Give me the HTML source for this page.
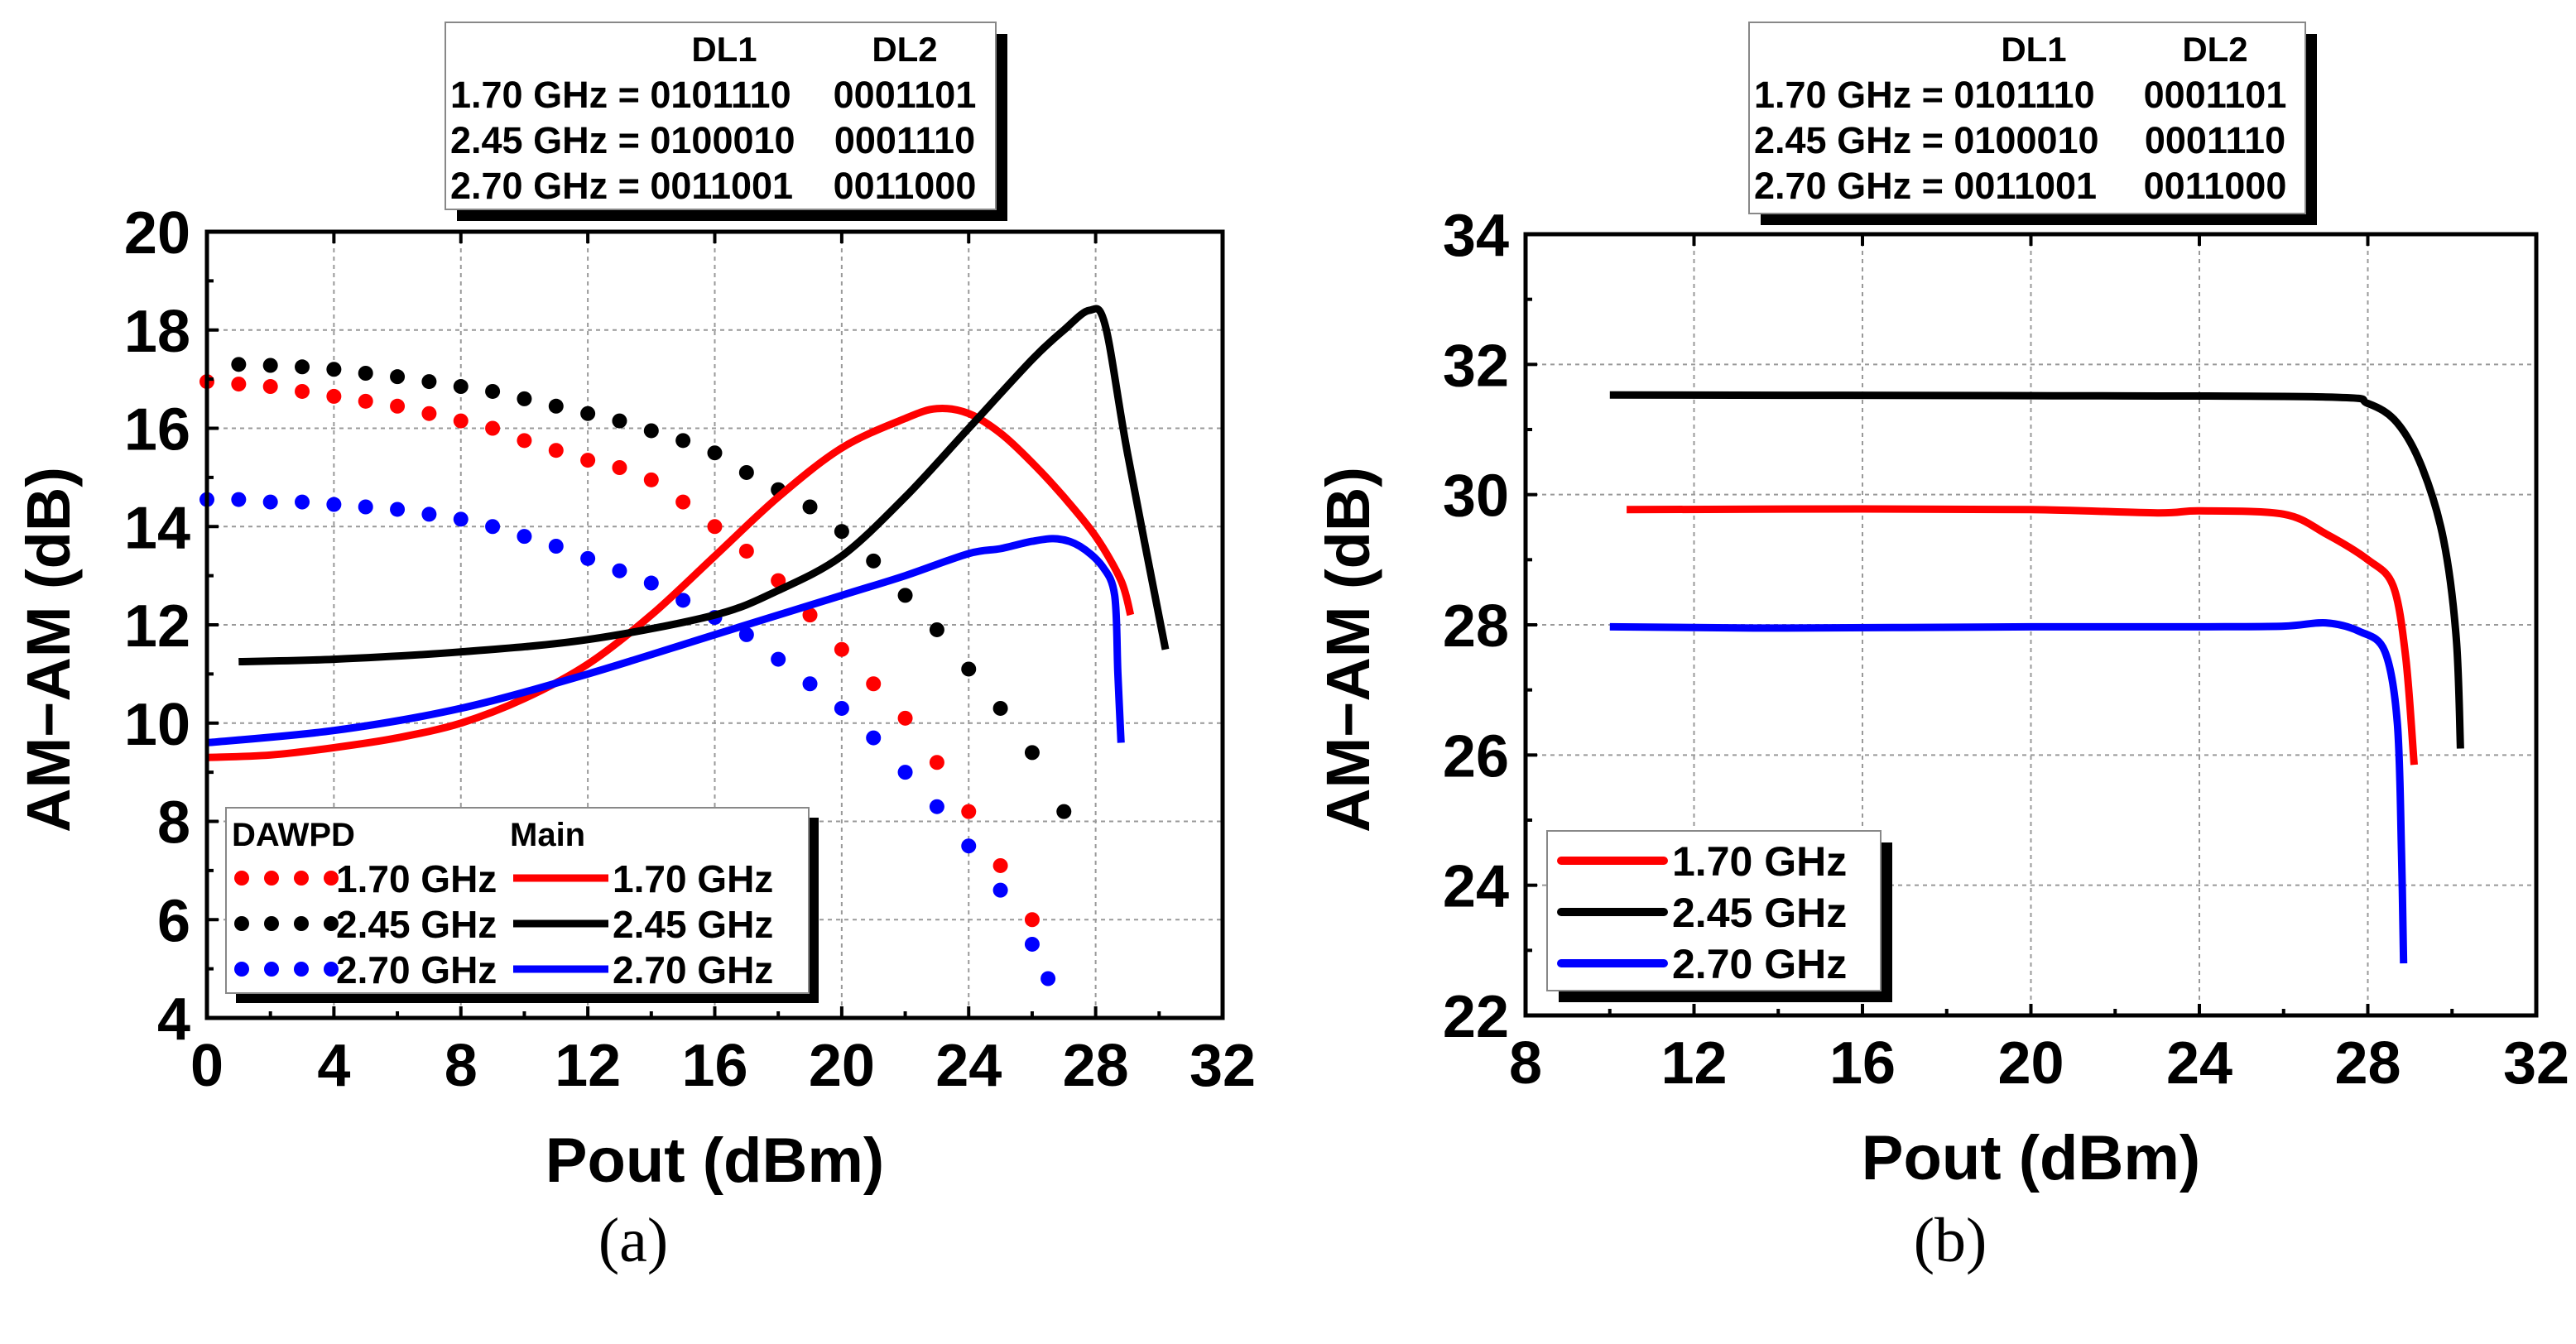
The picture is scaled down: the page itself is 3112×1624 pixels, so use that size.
<!DOCTYPE html>
<html><head><meta charset="utf-8"><style>
body{margin:0;background:#fff}
svg text{font-family:"Liberation Sans",Arial,sans-serif;font-weight:bold}
</style></head><body>
<svg id="fig" width="3112" height="1619" viewBox="0 0 3112 1619" xmlns="http://www.w3.org/2000/svg">
<g id="pa"></g>
<g id="pb"></g>
</svg>
<script>
// Panel (a) data
const aXTicks=[0,4,8,12,16,20,24,28,32];
const aYTicks=[4,6,8,10,12,14,16,18,20];
const dRedX=[0,1,2,3,4,5,6,7,8,9,10,11,12,13,14,15,16,17,18,19,20,21,22,23,24,25,26];
const dRedY=[16.95,16.9,16.85,16.75,16.65,16.55,16.45,16.3,16.15,16.0,15.75,15.55,15.35,15.2,14.95,14.5,14.0,13.5,12.9,12.2,11.5,10.8,10.1,9.2,8.2,7.1,6.0];
const dBlkX=[1,2,3,4,5,6,7,8,9,10,11,12,13,14,15,16,17,18,19,20,21,22,23,24,25,26,27];
const dBlkY=[17.3,17.28,17.25,17.2,17.12,17.05,16.95,16.85,16.75,16.6,16.45,16.3,16.15,15.95,15.75,15.5,15.1,14.75,14.4,13.9,13.3,12.6,11.9,11.1,10.3,9.4,8.2];
const dBluX=[0,1,2,3,4,5,6,7,8,9,10,11,12,13,14,15,16,17,18,19,20,21,22,23,24,25,26,26.5];
const dBluY=[14.55,14.55,14.5,14.5,14.45,14.4,14.35,14.25,14.15,14.0,13.8,13.6,13.35,13.1,12.85,12.5,12.15,11.8,11.3,10.8,10.3,9.7,9.0,8.3,7.5,6.6,5.5,4.8];
const mRedX=[0,2,4,6,8,10,12,14,16,18,20,22,23,24,25,26,27,28,28.8,29.1];
const mRedY=[9.3,9.35,9.5,9.7,10.0,10.5,11.2,12.2,13.4,14.6,15.6,16.2,16.4,16.3,15.9,15.3,14.6,13.8,12.9,12.2];
const mBlkX=[1,4,8,12,16,18,20,22,24,26,27,27.8,28.3,29,30.2];
const mBlkY=[11.25,11.3,11.45,11.7,12.2,12.7,13.4,14.6,16.0,17.4,18.0,18.4,18.1,15.5,11.5];
const mBluX=[0,4,8,12,16,20,22,24,25,26,26.8,27.5,28.2,28.6,28.7,28.8];
const mBluY=[9.6,9.85,10.3,11.0,11.8,12.6,13.0,13.45,13.55,13.7,13.75,13.6,13.2,12.6,11.0,9.6];
// Panel (b) data
const bXTicks=[8,12,16,20,24,28,32];
const bYTicks=[22,24,26,28,30,32,34];
const bRedX=[10.4,16,20,23,24,26,27,28,28.6,28.9,29.1];
const bRedY=[29.77,29.78,29.77,29.72,29.75,29.7,29.4,29.0,28.6,27.5,25.85];
const bBlkX=[10,20,27,28,28.7,29.3,29.8,30.1,30.2];
const bBlkY=[31.53,31.52,31.5,31.4,31.1,30.4,29.3,27.8,26.1];
const bBluX=[10,14,20,24,26,27,27.8,28.4,28.7,28.8,28.85];
const bBluY=[27.97,27.95,27.97,27.97,27.98,28.03,27.9,27.6,26.5,24.5,22.8];
const tableRows=[["1.70 GHz = 0101110","0001101"],["2.45 GHz = 0100010","0001110"],["2.70 GHz = 0011001","0011000"]];

const NS="http://www.w3.org/2000/svg";
function mk(p,t,a,txt){const e=document.createElementNS(NS,t);for(const k in a)e.setAttribute(k,a[k]);if(txt!==undefined)e.textContent=txt;p.appendChild(e);return e;}
const RED="#ff0000",BLK="#000",BLU="#0000ff";
function smooth(P){
  let d='M'+P[0][0].toFixed(1)+','+P[0][1].toFixed(1);
  for(let i=0;i<P.length-1;i++){
    const p0=P[Math.max(0,i-1)],p1=P[i],p2=P[i+1],p3=P[Math.min(P.length-1,i+2)];
    const t=0.16;
    const c1=[p1[0]+(p2[0]-p0[0])*t,p1[1]+(p2[1]-p0[1])*t];
    const c2=[p2[0]-(p3[0]-p1[0])*t,p2[1]-(p3[1]-p1[1])*t];
    d+=` C${c1[0].toFixed(1)},${c1[1].toFixed(1)} ${c2[0].toFixed(1)},${c2[1].toFixed(1)} ${p2[0].toFixed(1)},${p2[1].toFixed(1)}`;
  }
  return d;
}

function panel(g,o){
  const sx=v=>o.x0+(v-o.xmin)/(o.xmax-o.xmin)*(o.x1-o.x0);
  const sy=v=>o.y1-(v-o.ymin)/(o.ymax-o.ymin)*(o.y1-o.y0);
  o.xt.forEach(v=>{if(v>o.xmin&&v<o.xmax){const l=mk(g,'line',{x1:sx(v),x2:sx(v),y1:o.y0,y2:o.y1,stroke:'#999','stroke-width':2,'stroke-dasharray':'5,5'});

}});
  o.yt.forEach(v=>{if(v>o.ymin&&v<o.ymax){const l=mk(g,'line',{x1:o.x0,x2:o.x1,y1:sy(v),y2:sy(v),stroke:'#999','stroke-width':2,'stroke-dasharray':'5,5'});

}});
  o.series.forEach(s=>{
    if(s.dots){s.x.forEach((xv,i)=>{const c=mk(g,'circle',{cx:sx(xv),cy:sy(s.y[i]),r:9,fill:s.c});

});}
    else{const P=s.x.map((xv,i)=>[sx(xv),sy(s.y[i])]);
const p=mk(g,'path',{d:smooth(P),fill:'none',stroke:s.c,'stroke-width':9,'stroke-linejoin':'round','stroke-linecap':'butt'});

}
  });
  const f=mk(g,'rect',{x:o.x0,y:o.y0,width:o.x1-o.x0,height:o.y1-o.y0,fill:'none',stroke:'#000','stroke-width':5});
  
  
  for(let i=0;i<o.xt.length;i++){const v=o.xt[i];
    [[o.y1,-14],[o.y0,14]].forEach(([yy,d])=>mk(g,'line',{x1:sx(v),x2:sx(v),y1:yy,y2:yy+d,stroke:'#000','stroke-width':4}));
    if(i<o.xt.length-1){const m=(v+o.xt[i+1])/2;mk(g,'line',{x1:sx(m),x2:sx(m),y1:o.y1,y2:o.y1-8,stroke:'#000','stroke-width':4});}
    const t=mk(g,'text',{x:sx(v),y:o.y1+82,'font-size':72,'text-anchor':'middle'},String(v));
    
    }
  for(let i=0;i<o.yt.length;i++){const v=o.yt[i];
    mk(g,'line',{x1:o.x0,x2:o.x0+14,y1:sy(v),y2:sy(v),stroke:'#000','stroke-width':4});
    if(i<o.yt.length-1){const m=(v+o.yt[i+1])/2;mk(g,'line',{x1:o.x0,x2:o.x0+8,y1:sy(m),y2:sy(m),stroke:'#000','stroke-width':4});}
    const t=mk(g,'text',{x:o.x0-20,y:sy(v)+26,'font-size':72,'text-anchor':'end'},String(v));
    
    }
  const xt=mk(g,'text',{x:(o.x0+o.x1)/2,y:o.y1+198,'font-size':76,'text-anchor':'middle'},'Pout (dBm)');
  
  
  const yx=o.ytx, yy=(o.y0+o.y1)/2+30;
  const yt=mk(g,'text',{x:yx,y:yy,'font-size':74,'text-anchor':'middle',transform:`rotate(-90 ${yx} ${yy})`},'AM\u2212AM (dB)');
  
  
  const cap=mk(g,'text',{x:o.capx,y:1524,'font-size':76,'text-anchor':'middle','style':'font-family:"Liberation Serif",serif;font-weight:normal'},o.cap);
  
  
  const T=o.tab;
  mk(g,'rect',{x:T.x+14,y:T.y+14,width:T.w,height:T.h,fill:'#000'});
  const tb=mk(g,'rect',{x:T.x,y:T.y,width:T.w,height:T.h,fill:'#fff',stroke:'#888','stroke-width':2});
  
  
  mk(g,'text',{x:T.x+T.c1,y:T.y+47,'font-size':42,'text-anchor':'middle'},'DL1');
  mk(g,'text',{x:T.x+T.c2,y:T.y+47,'font-size':42,'text-anchor':'middle'},'DL2');
  tableRows.forEach((r,i)=>{
    const a=mk(g,'text',{x:T.x+6,y:T.y+103+i*55,'font-size':45},r[0]);
    
    
    const b=mk(g,'text',{x:T.x+T.c2,y:T.y+103+i*55,'font-size':45,'text-anchor':'middle'},r[1]);
    
    
  });
  return {sx,sy};
}

const ga=document.getElementById('pa');
panel(ga,{x0:250,x1:1477,y0:280,y1:1230,xmin:0,xmax:32,ymin:4,ymax:20,xt:aXTicks,yt:aYTicks,ytx:84,capx:765,cap:'(a)',
  tab:{x:538,y:27,w:665,h:226,c1:337,c2:555},
  series:[{dots:1,x:dRedX,y:dRedY,c:RED,n:'dawpd-1p70'},{dots:1,x:dBlkX,y:dBlkY,c:BLK,n:'dawpd-2p45'},{dots:1,x:dBluX,y:dBluY,c:BLU,n:'dawpd-2p70'},
          {x:mRedX,y:mRedY,c:RED,n:'main-1p70'},{x:mBlkX,y:mBlkY,c:BLK,n:'main-2p45'},{x:mBluX,y:mBluY,c:BLU,n:'main-2p70'}]});
(function(){
  const g=ga;
  mk(g,'rect',{x:285,y:988,width:704,height:224,fill:'#000'});
  const r=mk(g,'rect',{x:273,y:976,width:704,height:224,fill:'#fff',stroke:'#888','stroke-width':2});
  
  
  mk(g,'text',{x:280,y:1022,'font-size':40},'DAWPD');
  mk(g,'text',{x:616,y:1022,'font-size':40},'Main');
  const cols=[RED,BLK,BLU],labs=['1.70 GHz','2.45 GHz','2.70 GHz'];
  cols.forEach((c,i)=>{const y=1061+i*55;
    for(let k=0;k<4;k++)mk(g,'circle',{cx:292+k*36,cy:y,r:9,fill:c});
    const t1=mk(g,'text',{x:406,y:y+17,'font-size':46},labs[i]);
    
    
    mk(g,'line',{x1:620,x2:735,y1:y,y2:y,stroke:c,'stroke-width':9});
    const t2=mk(g,'text',{x:740,y:y+17,'font-size':46},labs[i]);
    
    
  });
})();
const gb=document.getElementById('pb');
panel(gb,{x0:1843,x1:3064,y0:283,y1:1227,xmin:8,xmax:32,ymin:22,ymax:34,xt:bXTicks,yt:bYTicks,ytx:1654,capx:2356,cap:'(b)',
  tab:{x:2113,y:27,w:672,h:231,c1:344,c2:563},
  series:[{x:bRedX,y:bRedY,c:RED,n:'1p70'},{x:bBlkX,y:bBlkY,c:BLK,n:'2p45'},{x:bBluX,y:bBluY,c:BLU,n:'2p70'}]});
(function(){
  const g=gb;
  mk(g,'rect',{x:1883,y:1018,width:403,height:193,fill:'#000'});
  const r=mk(g,'rect',{x:1869,y:1004,width:403,height:193,fill:'#fff',stroke:'#888','stroke-width':2});
  
  
  const cols=[RED,BLK,BLU],labs=['1.70 GHz','2.45 GHz','2.70 GHz'];
  cols.forEach((c,i)=>{const y=1040+i*62;
    mk(g,'line',{x1:1886,x2:2010,y1:y,y2:y,stroke:c,'stroke-width':10,'stroke-linecap':'round'});
    const t=mk(g,'text',{x:2020,y:y+18,'font-size':50},labs[i]);
    
    
  });
})();
</script>
</body></html>
